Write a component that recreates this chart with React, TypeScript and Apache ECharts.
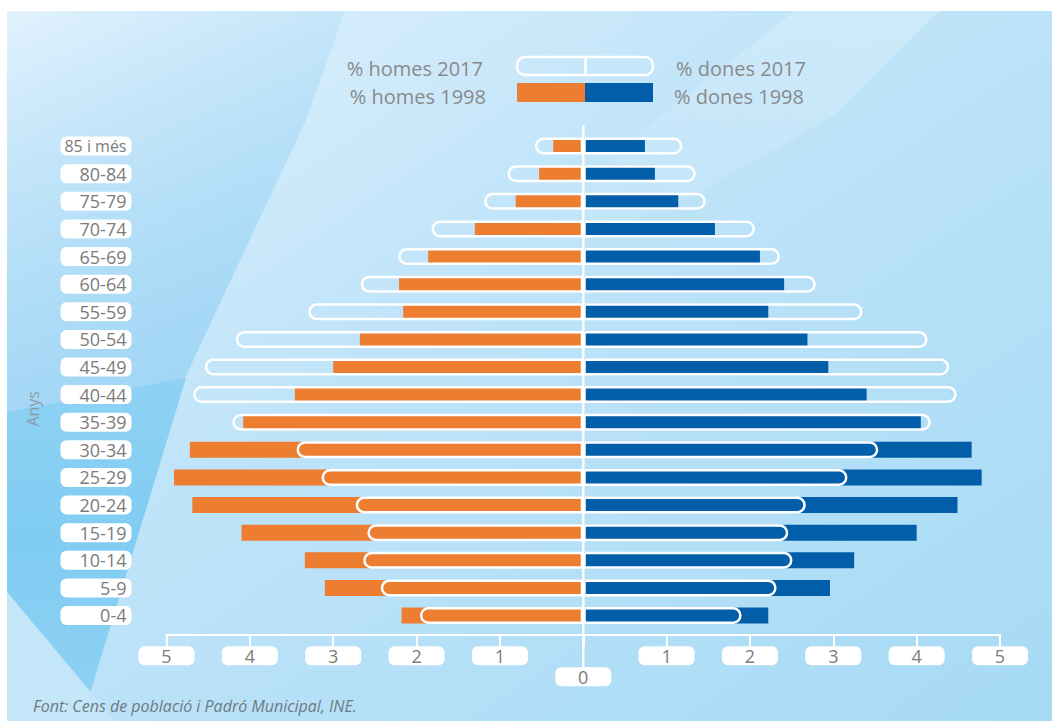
import React, { useEffect, useRef } from "react";
import * as echarts from "echarts";

const categories = ["85 i més", "80-84", "75-79", "70-74", "65-69", "60-64", "55-59", "50-54", "45-49", "40-44", "35-39", "30-34", "25-29", "20-24", "15-19", "10-14", "5-9", "0-4"];
const homes1998 = [0.36, 0.53, 0.81, 1.30, 1.86, 2.21, 2.16, 2.68, 3.00, 3.46, 4.08, 4.72, 4.91, 4.69, 4.10, 3.34, 3.10, 2.18];
const homes2017 = [0.58, 0.91, 1.19, 1.82, 2.22, 2.67, 3.30, 4.17, 4.54, 4.68, 4.21, 3.44, 3.14, 2.73, 2.59, 2.64, 2.43, 1.96];
const dones1998 = [0.74, 0.86, 1.14, 1.58, 2.12, 2.41, 2.22, 2.69, 2.94, 3.40, 4.05, 4.66, 4.78, 4.49, 4.00, 3.25, 2.96, 2.22];
const dones2017 = [1.19, 1.35, 1.47, 2.06, 2.36, 2.79, 3.35, 4.13, 4.39, 4.48, 4.17, 3.54, 3.17, 2.67, 2.46, 2.51, 2.32, 1.90];
const legendNames = ["% homes 2017", "% homes 1998", "% dones 2017", "% dones 1998"];
const axisTitle = "Anys";
const sourceNote = "Font: Cens de població i Padró Municipal, INE.";

const FONT = "'Open Sans', 'Noto Sans', sans-serif";
const ORANGE = "#ed7d31";
const BLUE = "#035ea9";
const GREY = "#7b7b7b";

function background(): any[] {
  return [
    {
      type: "rect", z: -20, silent: true,
      shape: { x: 7, y: 11, width: 1045, height: 710 },
      style: {
        fill: new echarts.graphic.LinearGradient(0, 0, 1, 1, [
          { offset: 0, color: "#e2f2fd" },
          { offset: 0.4, color: "#c0e4f9" },
          { offset: 1, color: "#a6daf5" },
        ]),
      },
    },
    {
      type: "polygon", z: -19, silent: true,
      shape: { points: [[7, 11], [345, 11], [306, 120], [184, 380], [7, 415]] },
      style: {
        fill: new echarts.graphic.LinearGradient(0, 0, 0.3, 1, [
          { offset: 0, color: "rgba(160,214,245,0)" },
          { offset: 0.35, color: "rgba(160,214,245,0.35)" },
          { offset: 1, color: "rgba(160,214,245,1)" },
        ]),
      },
    },
    {
      type: "polygon", z: -18, silent: true,
      shape: { points: [[7, 412], [186, 378], [88, 700], [7, 592]] },
      style: {
        fill: new echarts.graphic.LinearGradient(0, 0, 0, 1, [
          { offset: 0, color: "#8ed2f3" },
          { offset: 0.5, color: "#80ccf2" },
          { offset: 1, color: "#8ed1f3" },
        ]),
      },
    },
    {
      type: "polygon", z: -18, silent: true,
      shape: { points: [[7, 592], [115, 721], [7, 721]] },
      style: { fill: "#c4e6f9" },
    },
    {
      type: "polygon", z: -18, silent: true,
      shape: { points: [[795, 11], [940, 11], [835, 115], [700, 192], [530, 262], [630, 140]] },
      style: {
        fill: new echarts.graphic.LinearGradient(1, 0, 0, 1, [
          { offset: 0, color: "rgba(255,255,255,0.25)" },
          { offset: 1, color: "rgba(255,255,255,0.02)" },
        ]),
      },
    },
  ];
}

function legendGraphics(): any[] {
  const t = (text: string, x: number, y: number, align: string) => ({
    type: "text", z: 10, silent: true, x, y,
    style: { text, fill: "#8a8a8a", font: `20px ${FONT}`, textAlign: align, textVerticalAlign: "middle" },
  });
  return [
    t(legendNames[0], 483, 68, "right"),
    t(legendNames[1], 486, 96, "right"),
    t(legendNames[2], 676, 68, "left"),
    t(legendNames[3], 674, 96, "left"),
    {
      type: "rect", z: 10, silent: true,
      shape: { x: 517, y: 57, width: 136, height: 18, r: 8 },
      style: { fill: "transparent", stroke: "#fff", lineWidth: 2.5 },
    },
    {
      type: "line", z: 10, silent: true,
      shape: { x1: 585.5, y1: 57, x2: 585.5, y2: 75 },
      style: { stroke: "#fff", lineWidth: 2.5 },
    },
    { type: "rect", z: 10, silent: true, shape: { x: 517, y: 83, width: 68, height: 19 }, style: { fill: ORANGE } },
    { type: "rect", z: 10, silent: true, shape: { x: 585, y: 83, width: 68, height: 19 }, style: { fill: BLUE } },
  ];
}

export default function App() {
  const ref = useRef<HTMLDivElement>(null);
  useEffect(() => {
    if (!ref.current) return;
    const chart = echarts.init(ref.current, undefined, { renderer: "svg" });
    const labelBox = {
      backgroundColor: "#fff", borderRadius: 6, width: 56, height: 19, lineHeight: 19,
      align: "center", fontSize: 18, color: GREY, fontFamily: FONT,
    };
    const catBox = {
      backgroundColor: "#fff", borderRadius: 6, width: 66, height: 19, lineHeight: 19,
      align: "right", padding: [0, 5, 0, 0], fontSize: 18, color: GREY, fontFamily: FONT,
    };
    const option: any = {
      animation: false,
      backgroundColor: "transparent",
      textStyle: { fontFamily: FONT },
      grid: { left: 166.5, width: 833.5, top: 132.3, height: 497 },
      xAxis: [
        {
          type: "value", min: -5, max: 5, interval: 1, position: "bottom", offset: 5,
          axisLine: { show: true, lineStyle: { color: "#fff", width: 2 } },
          axisTick: { show: true, length: 12, lineStyle: { color: "#fff", width: 2 } },
          splitLine: { show: false },
          axisLabel: {
            margin: 12,
            formatter: (v: number) => (v === 0 ? "" : `{n|${Math.abs(v)}}`),
            rich: { n: labelBox },
          },
        },
        {
          type: "value", min: -5, max: 5, interval: 5, position: "bottom", offset: 5,
          axisLine: { show: false }, axisTick: { show: false }, splitLine: { show: false },
          axisLabel: {
            margin: 33,
            formatter: (v: number) => (v === 0 ? "{n|0}" : ""),
            rich: { n: labelBox },
          },
        },
      ],
      yAxis: [
        {
          type: "category", data: categories, inverse: true,
          axisLine: { show: false }, axisTick: { show: false }, splitLine: { show: false },
          name: axisTitle, nameLocation: "middle", nameRotate: 90, nameGap: 126,
          nameTextStyle: { color: "#8a9cab", fontSize: 16, fontFamily: FONT, padding: [0, 56, 0, 0] },
          axisLabel: {
            margin: 35,
            formatter: (v: string) => (v === categories[0] ? `{s|${v}}` : `{b|${v}}`),
            rich: { b: catBox, s: { ...catBox, fontSize: 16 } },
          },
        },
        { type: "category", data: categories, inverse: true, show: false },
      ],
      series: [
        {
          name: legendNames[1], type: "bar", xAxisIndex: 0, yAxisIndex: 0, stack: "fill", barWidth: 16,
          data: homes1998.map((v) => -v), itemStyle: { color: ORANGE }, z: 2, silent: true,
        },
        {
          name: legendNames[3], type: "bar", xAxisIndex: 0, yAxisIndex: 0, stack: "fill", barWidth: 16,
          data: dones1998, itemStyle: { color: BLUE }, z: 2, silent: true,
        },
        {
          name: legendNames[0], type: "bar", xAxisIndex: 0, yAxisIndex: 1, stack: "outline", barWidth: 17,
          data: homes2017.map((v) => -v),
          itemStyle: { color: "rgba(0,0,0,0)", borderColor: "#fff", borderWidth: 2.5, borderRadius: [9, 0, 0, 9] },
          z: 3, silent: true,
        },
        {
          name: legendNames[2], type: "bar", xAxisIndex: 0, yAxisIndex: 1, stack: "outline", barWidth: 17,
          data: dones2017,
          itemStyle: { color: "rgba(0,0,0,0)", borderColor: "#fff", borderWidth: 2.5, borderRadius: [0, 9, 9, 0] },
          z: 3, silent: true,
        },
      ],
      graphic: [
        ...background(),
        ...legendGraphics(),
        {
          type: "text", z: 10, silent: true, x: 33, y: 706,
          style: { text: sourceNote, fill: "#6e7a83", font: `italic 16px ${FONT}`, textVerticalAlign: "middle" },
        },
      ],
    };
    chart.setOption(option);
    const x0 = chart.convertToPixel({ xAxisIndex: 0 }, 0) as number;
    chart.setOption({
      graphic: [
        ...option.graphic,
        {
          type: "line", z: 20, silent: true,
          shape: { x1: x0, y1: 125, x2: x0, y2: 667 },
          style: { stroke: "#fff", lineWidth: 2.5 },
        },
      ],
    });
    return () => chart.dispose();
  }, []);
  return <div ref={ref} style={{ position: "absolute", left: 0, top: 0, width: 1052, height: 721 }} />;
}
